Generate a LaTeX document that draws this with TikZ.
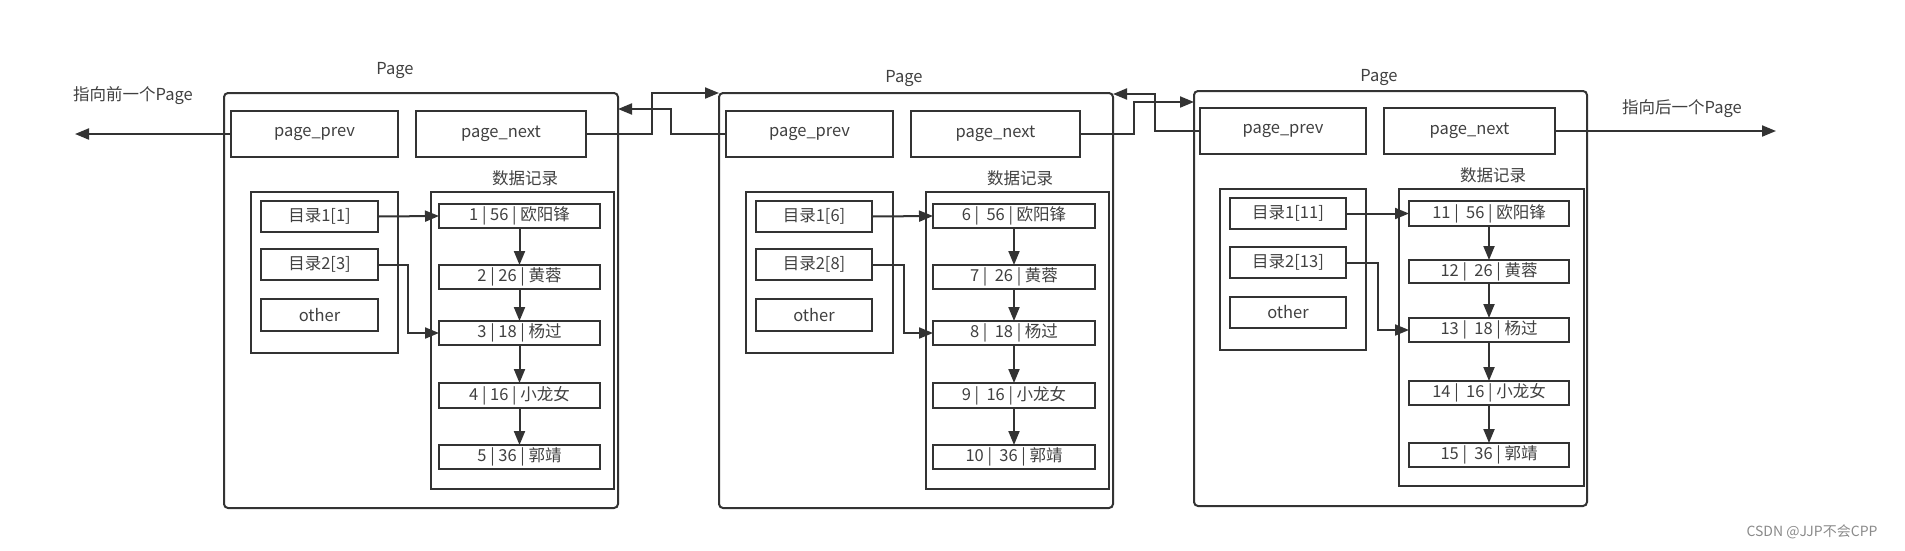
\documentclass[tikz,border=0pt]{standalone}
\usepackage{fontspec}
\setmainfont{Noto Sans CJK SC}
\usetikzlibrary{arrows.meta,calc}
\definecolor{ln}{HTML}{333333}
\definecolor{tx}{HTML}{404040}
\definecolor{wm}{HTML}{8A8A8A}
\tikzset{
  bx/.style={draw=ln,line width=2pt,inner sep=0pt,outer sep=0pt,text=tx,font=\fontsize{16.5}{18}\selectfont},
  pagebox/.style={bx,rounded corners=4pt},
  lbl/.style={inner sep=0pt,text=tx,font=\fontsize{16.5}{18}\selectfont},
  conn/.style={draw=ln,line width=2pt,-{Triangle[length=14pt,width=11pt]}},
}
\begin{document}
\begin{tikzpicture}[x=1pt,y=-1pt]
\useasboundingbox (0,0) rectangle (1905,550);
% ---------------- Page 1
\node[pagebox,minimum width=394pt,minimum height=415pt] (P1) at (421,300.5) {};
\node[lbl] (t1) at (395,71) {Page};
\node[bx,minimum width=167pt,minimum height=46pt] (prev1) at (314.5,134) {page\_prev};
\node[bx,minimum width=170pt,minimum height=46pt] (next1) at (501,134) {page\_next};
\node[lbl] (s1) at (525,178) {数据记录};
\node[bx,minimum width=147pt,minimum height=161pt] (D1) at (324.5,272.5) {};
\node[bx,minimum width=183pt,minimum height=297pt] (R1) at (522.5,340.5) {};
\node[bx,minimum width=117pt,minimum height=31pt] (d11) at (319.5,216.5) {目录1[1]};
\node[bx,minimum width=117pt,minimum height=31pt] (d12) at (319.5,264.5) {目录2[3]};
\node[bx,minimum width=117pt,minimum height=32pt] (d13) at (319.5,315) {other};
\node[bx,minimum width=161pt,minimum height=24pt] (r1) at (519.5,216) {1 | 56 | 欧阳锋};
\node[bx,minimum width=161pt,minimum height=24pt] (r2) at (519.5,277) {2 | 26 | 黄蓉};
\node[bx,minimum width=161pt,minimum height=24pt] (r3) at (519.5,333) {3 | 18 | 杨过};
\node[bx,minimum width=161pt,minimum height=25pt] (r4) at (519.5,395.5) {4 | 16 | 小龙女};
\node[bx,minimum width=161pt,minimum height=24pt] (r5) at (519.5,457) {5 | 36 | 郭靖};
% ---------------- Page 2
\node[pagebox,minimum width=394pt,minimum height=415pt] (P2) at (916,300.5) {};
\node[lbl] (t2) at (904,79) {Page};
\node[bx,minimum width=167pt,minimum height=46pt] (prev2) at (809.5,134) {page\_prev};
\node[bx,minimum width=169pt,minimum height=46pt] (next2) at (995.5,134) {page\_next};
\node[lbl] (s2) at (1020,178) {数据记录};
\node[bx,minimum width=147pt,minimum height=161pt] (D2) at (819.5,272.5) {};
\node[bx,minimum width=183pt,minimum height=297pt] (R2) at (1017.5,340.5) {};
\node[bx,minimum width=116pt,minimum height=31pt] (d21) at (814,216.5) {目录1[6]};
\node[bx,minimum width=116pt,minimum height=31pt] (d22) at (814,264.5) {目录2[8]};
\node[bx,minimum width=116pt,minimum height=32pt] (d23) at (814,315) {other};
\node[bx,minimum width=162pt,minimum height=24pt] (r6) at (1014,216) {6 |\ \ 56 | 欧阳锋};
\node[bx,minimum width=162pt,minimum height=24pt] (r7) at (1014,277) {7 |\ \ 26 | 黄蓉};
\node[bx,minimum width=162pt,minimum height=24pt] (r8) at (1014,333) {8 |\ \ 18 | 杨过};
\node[bx,minimum width=162pt,minimum height=25pt] (r9) at (1014,395.5) {9 |\ \ 16 | 小龙女};
\node[bx,minimum width=162pt,minimum height=24pt] (r10) at (1014,457) {10 |\ \ 36 | 郭靖};
% ---------------- Page 3
\node[pagebox,minimum width=393pt,minimum height=415pt] (P3) at (1390.5,298.5) {};
\node[lbl] (t3) at (1379,78) {Page};
\node[bx,minimum width=166pt,minimum height=46pt] (prev3) at (1283,131) {page\_prev};
\node[bx,minimum width=171pt,minimum height=46pt] (next3) at (1469.5,131) {page\_next};
\node[lbl] (s3) at (1493,175) {数据记录};
\node[bx,minimum width=146pt,minimum height=161pt] (D3) at (1293,269.5) {};
\node[bx,minimum width=185pt,minimum height=297pt] (R3) at (1491.5,337.5) {};
\node[bx,minimum width=116pt,minimum height=31pt] (d31) at (1288,213.5) {目录1[11]};
\node[bx,minimum width=116pt,minimum height=31pt] (d32) at (1288,262.5) {目录2[13]};
\node[bx,minimum width=116pt,minimum height=31pt] (d33) at (1288,312.5) {other};
\node[bx,minimum width=160pt,minimum height=25pt] (r11) at (1489,213.5) {11 |\ \ 56 | 欧阳锋};
\node[bx,minimum width=160pt,minimum height=23pt] (r12) at (1489,271.5) {12 |\ \ 26 | 黄蓉};
\node[bx,minimum width=160pt,minimum height=24pt] (r13) at (1489,330) {13 |\ \ 18 | 杨过};
\node[bx,minimum width=160pt,minimum height=24pt] (r14) at (1489,393) {14 |\ \ 16 | 小龙女};
\node[bx,minimum width=160pt,minimum height=24pt] (r15) at (1489,455) {15 |\ \ 36 | 郭靖};
% ---------------- outer labels
\node[lbl] (lp) at (133,96) {指向前一个Page};
\node[lbl] (ln) at (1682,109) {指向后一个Page};
\coordinate (lend) at (75,134);
\coordinate (rend) at (1776,131);
\node[inner sep=0pt,text=wm,font=\fontsize{14}{16}\selectfont] (wmk) at (1812,532) {CSDN @JJP不会CPP};
% ---------------- connectors inside pages
\foreach \a/\b in {r1/r2,r2/r3,r3/r4,r4/r5,r6/r7,r7/r8,r8/r9,r9/r10,r11/r12,r12/r13,r13/r14,r14/r15}
  \draw[conn] (\a.south) -- (\b.north);
\draw[conn] (d11.east) -- (r1.west);
\draw[conn] (d21.east) -- (r6.west);
\draw[conn] (d31.east) -- (r11.west);
\draw[conn] (d12.east) -- ++(30,0) |- (r3.west);
\draw[conn] (d22.east) -- ++(32,0) |- (r8.west);
\draw[conn] (d32.east) -- ++(32,0) |- (r13.west);
% ---------------- connectors between pages
\draw[conn] (prev1.west) -- (lend);
\draw[conn] (next3.east) -- (rend);
\draw[conn] (next1.east) -| ($(P2.north west)+(-67,0)$) -- (P2.north west);
\draw[conn] (prev2.west) -| ($(P1.north east)+(53,16)$) -- ($(P1.north east)+(0,16)$);
\draw[conn] (next2.east) -| ($(P3.north west)+(-60,11)$) -- ($(P3.north west)+(0,11)$);
\draw[conn] (prev3.west) -| ($(P2.north east)+(42,1)$) -- ($(P2.north east)+(0,1)$);
\end{tikzpicture}
\end{document}
